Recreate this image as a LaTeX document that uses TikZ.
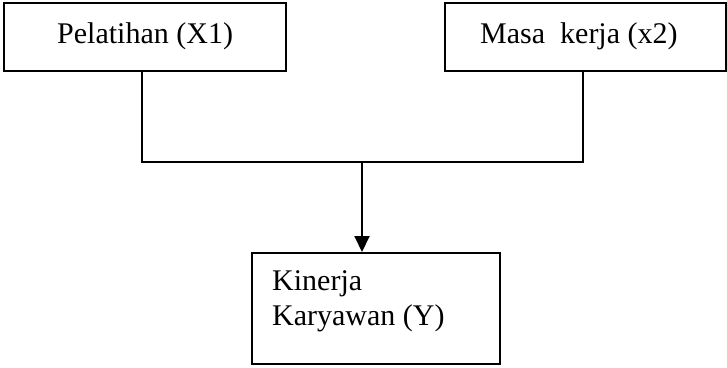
\documentclass[tikz,border=0pt]{standalone}
\usepackage{fontspec}
\setmainfont{Liberation Serif}
\usetikzlibrary{arrows.meta}
\begin{document}
\begin{tikzpicture}[x=1pt,y=-1pt,
  box/.style={draw,line width=2pt,minimum width=#1,inner sep=0pt},
  lbl/.style={anchor=base west,inner sep=0pt,font=\fontsize{30}{36}\selectfont},
  link/.style={line width=2pt}]
  \useasboundingbox (0,0) rectangle (727,367);
  % variable boxes
  \node[box=282pt,minimum height=68pt] (pel) at (145,37) {};
  \node[box=281pt,minimum height=68pt] (mas) at (585.5,37) {};
  \node[box=248pt,minimum height=111pt] (kin) at (376,308.5) {};
  % box texts
  \node[lbl] (tpel) at (57,43) {Pelatihan (X1)};
  \node[lbl] (tmas) at (480,43) {Masa\ \ kerja (x2)};
  \node[lbl] (tkin1) at (272,290) {Kinerja};
  \node[lbl] (tkin2) at (272,325) {Karyawan (Y)};
  % junction of the two influences
  \coordinate (j) at (362,162);
  \draw[link] ([xshift=-3pt]pel.south) |- (j) -| ([xshift=-2.5pt]mas.south);
  \draw[link,-{Triangle[length=16pt,width=15pt]}] (j) -- (kin.north -| j);
\end{tikzpicture}
\end{document}
